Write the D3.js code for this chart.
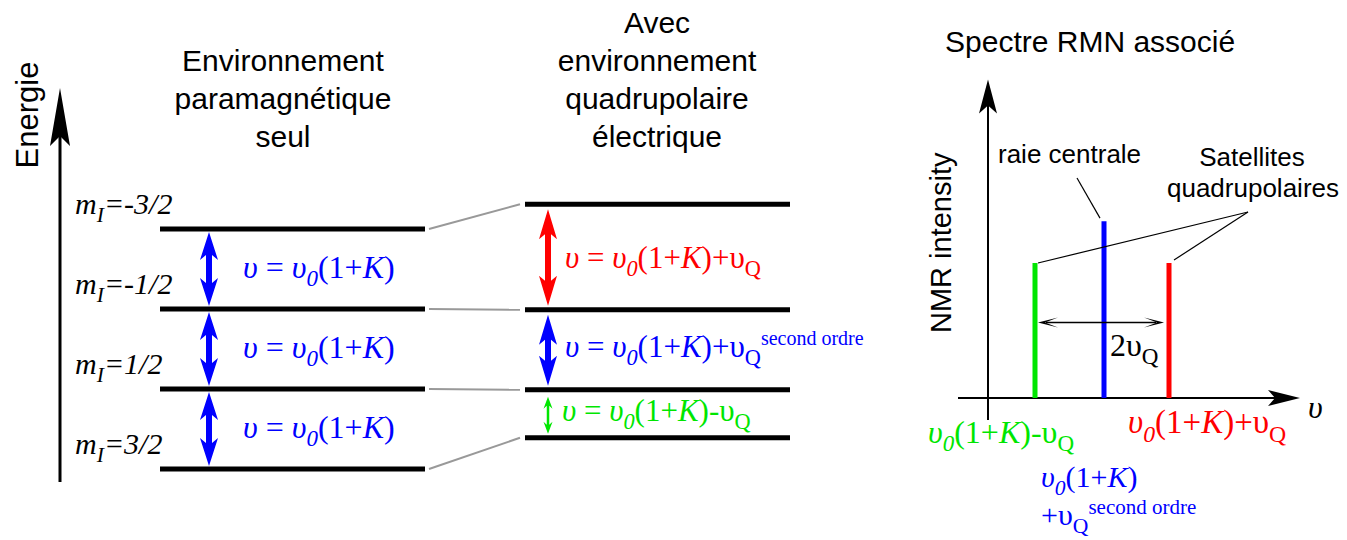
<!DOCTYPE html>
<html>
<head>
<meta charset="utf-8">
<script src="https://cdn.jsdelivr.net/npm/d3@7"></script>
<style>body{margin:0;background:#fff;}</style>
</head>
<body>
<script>
// spin states of the quadrupolar nucleus (I = 3/2)
const spinLabels = ["-3/2", "-1/2", "1/2", "3/2"];
// level energies, arbitrary units
const energyPara = [3, 2, 1, 0];
const energyQuad = [3.31, 1.99, 0.99, 0.39];
// transition type for each gap, top to bottom (quadrupolar case)
const transKind = ["plus", "central", "minus"];
// spectrum lines: frequency and intensity (arbitrary units)
const specKind = ["minus", "central", "plus"];
const specFreq = [0.47, 1.16, 1.81];
const specInt = [1, 1.31, 1];
// titles
const titlePara = ["Environnement", "paramagnétique", "seul"];
const titleQuad = ["Avec", "environnement", "quadrupolaire", "électrique"];

const W = 1347, H = 540;
const sans = "'Liberation Sans', Arial, sans-serif";
const serif = "'Liberation Serif', 'Times New Roman', serif";
const colors = { plus: "#ff0000", central: "#0000ff", minus: "#00e600" };

const svg = d3.select("body").append("svg").attr("width", W).attr("height", H);

// scales
const yE = d3.scaleLinear().domain([0, 3]).range([469, 229]);
const xS = d3.scaleLinear().domain([0, 3.12]).range([988, 1300]);
const yS = d3.scaleLinear().domain([0, 1]).range([398, 263]);

// rich text: segments {t, i (italic), sub, sup, fs}
function rich(g, x, y, segs, size, color) {
  const txt = g.append("text").attr("x", x).attr("y", y)
    .attr("font-family", serif).attr("font-size", size).attr("fill", color);
  let shift = 0;
  segs.forEach(s => {
    let target = 0, fs = size;
    if (s.sub) { target = size * 0.26; fs = size * 0.72; }
    if (s.sup) { target = -s.sup; fs = s.fs || size * 0.66; }
    txt.append("tspan").attr("dy", target - shift)
      .attr("font-size", fs)
      .attr("font-style", s.i ? "italic" : "normal")
      .text(s.t);
    shift = target;
  });
  return txt;
}

const nu0K = [{t: "υ", i: 1}, {t: "0", i: 1, sub: 1}, {t: "(1+"}, {t: "K", i: 1}, {t: ")"}];
const eqCore = [{t: "υ", i: 1}, {t: " = "}].concat(nu0K);
const plusQ = [{t: "+υ"}, {t: "Q", sub: 1}];
const minusQ = [{t: "-υ"}, {t: "Q", sub: 1}];
const eqFor = {
  plus: eqCore.concat(plusQ),
  central: eqCore.concat(plusQ, [{t: "second ordre", sup: 12, fs: 20}]),
  minus: eqCore.concat(minusQ)
};

function dblArrow(x, y1, y2, sw, hw, hl, notch) {
  return `M${x},${y1} L${x + hw / 2},${y1 + hl} L${x + sw / 2},${y1 + hl - notch}
    L${x + sw / 2},${y2 - hl + notch} L${x + hw / 2},${y2 - hl} L${x},${y2}
    L${x - hw / 2},${y2 - hl} L${x - sw / 2},${y2 - hl + notch}
    L${x - sw / 2},${y1 + hl - notch} L${x - hw / 2},${y1 + hl} Z`;
}

// arrow head pointing in direction (dx,dy) with tip at (x,y)
function head(x, y, dx, dy, len, wid, notch) {
  const px = -dy, py = dx;
  const bx = x - dx * len, by = y - dy * len;
  const nx = x - dx * (len - notch), ny = y - dy * (len - notch);
  return `M${x},${y} L${bx + px * wid / 2},${by + py * wid / 2} L${nx},${ny}
    L${bx - px * wid / 2},${by - py * wid / 2} Z`;
}

// ---------- energy axis ----------
svg.append("line").attr("x1", 60).attr("x2", 60).attr("y1", 482).attr("y2", 110)
  .attr("stroke", "#000").attr("stroke-width", 3);
svg.append("path").attr("d", head(60, 88, 0, -1, 58, 20, 10)).attr("fill", "#000");
svg.append("text").attr("transform", "translate(38,115) rotate(-90)")
  .attr("text-anchor", "middle").attr("font-family", sans).attr("font-size", 31)
  .text("Energie");

// ---------- titles ----------
titlePara.forEach((t, i) => {
  svg.append("text").attr("x", 283).attr("y", 71 + i * 38).attr("text-anchor", "middle")
    .attr("font-family", sans).attr("font-size", 30).text(t);
});
titleQuad.forEach((t, i) => {
  svg.append("text").attr("x", 657).attr("y", 33 + i * 38).attr("text-anchor", "middle")
    .attr("font-family", sans).attr("font-size", 30).text(t);
});

// ---------- levels ----------
const gLev = svg.append("g");
// connectors
energyPara.forEach((e, i) => {
  gLev.append("line").attr("x1", 429).attr("y1", yE(e))
    .attr("x2", 520).attr("y2", yE(energyQuad[i]))
    .attr("stroke", "#999").attr("stroke-width", 2);
});
gLev.selectAll(".lp").data(energyPara).join("line")
  .attr("x1", 160).attr("x2", 425).attr("y1", d => yE(d)).attr("y2", d => yE(d))
  .attr("stroke", "#000").attr("stroke-width", 5);
gLev.selectAll(".lq").data(energyQuad).join("line")
  .attr("x1", 525).attr("x2", 790).attr("y1", d => yE(d)).attr("y2", d => yE(d))
  .attr("stroke", "#000").attr("stroke-width", 5);

// spin labels
spinLabels.forEach((s, i) => {
  rich(svg, 75, yE(energyPara[i]) - 15,
    [{t: "m", i: 1}, {t: "I", i: 1, sub: 1}, {t: "=" + s, i: 1}], 30, "#000");
});

// transitions, paramagnetic only
for (let i = 0; i < 3; i++) {
  const y1 = yE(energyPara[i]) + 3, y2 = yE(energyPara[i + 1]) - 3;
  svg.append("path").attr("d", dblArrow(209, y1, y2, 6, 18, 28, 5)).attr("fill", colors.central);
  rich(svg, 243, (y1 + y2) / 2 + 9, eqCore, 32, colors.central);
}

// transitions, with quadrupolar coupling
transKind.forEach((k, i) => {
  const y1 = yE(energyQuad[i]) + 5, y2 = yE(energyQuad[i + 1]) - 4;
  const small = (y2 - y1) < 50;
  svg.append("path")
    .attr("d", small ? dblArrow(548, y1 + 2, y2, 2.5, 9, 12, 3) : dblArrow(548, y1, y2, 6, 18, 30, 5))
    .attr("fill", colors[k]);
  rich(svg, small ? 562 : 565, (y1 + y2) / 2 + (i === 0 ? 10 : 7), eqFor[k], 31, colors[k]);
});

// ---------- spectrum ----------
svg.append("text").attr("x", 945).attr("y", 52).attr("font-family", sans).attr("font-size", 30)
  .text("Spectre RMN associé");

// axes
svg.append("line").attr("x1", xS(0)).attr("x2", xS(0)).attr("y1", 420).attr("y2", yS(2.2))
  .attr("stroke", "#000").attr("stroke-width", 2);
svg.append("path").attr("d", head(xS(0), yS(2.36), 0, -1, 34, 18, 8)).attr("fill", "#000");
svg.append("line").attr("x1", 958).attr("x2", xS(2.9)).attr("y1", yS(0)).attr("y2", yS(0))
  .attr("stroke", "#000").attr("stroke-width", 2);
svg.append("path").attr("d", head(xS(3.12), yS(0), 1, 0, 32, 16, 7)).attr("fill", "#000");
rich(svg, 1308, 418, [{t: "υ", i: 1}], 32, "#000");

svg.append("text").attr("transform", `translate(951,${yS(1.15)}) rotate(-90)`)
  .attr("text-anchor", "middle").attr("font-family", sans).attr("font-size", 29)
  .text("NMR intensity");

// lines
svg.selectAll(".sl").data(specFreq).join("line")
  .attr("x1", d => xS(d)).attr("x2", d => xS(d))
  .attr("y1", yS(0)).attr("y2", (d, i) => yS(specInt[i]))
  .attr("stroke", (d, i) => colors[specKind[i]]).attr("stroke-width", 5);

// 2vQ arrow
const ya = yS(0.56);
const xa1 = xS(specFreq[0]) + 3, xa2 = xS(specFreq[2]) - 5;
svg.append("line").attr("x1", xa1 + 8).attr("x2", xa2 - 8).attr("y1", ya).attr("y2", ya)
  .attr("stroke", "#000").attr("stroke-width", 1.5);
svg.append("path").attr("d", head(xa1, ya, -1, 0, 20, 10, 13)).attr("fill", "#000");
svg.append("path").attr("d", head(xa2, ya, 1, 0, 20, 10, 13)).attr("fill", "#000");
rich(svg, 1110, 356, [{t: "2υ"}, {t: "Q", sub: 1}], 32, "#000");

// annotations
svg.append("text").attr("x", 998).attr("y", 163).attr("font-family", sans).attr("font-size", 26)
  .text("raie centrale");
svg.append("line").attr("x1", 1077).attr("y1", 178)
  .attr("x2", xS(specFreq[1]) - 4).attr("y2", yS(specInt[1]) - 3)
  .attr("stroke", "#000").attr("stroke-width", 1.2);
svg.append("text").attr("x", 1252).attr("y", 166).attr("text-anchor", "middle")
  .attr("font-family", sans).attr("font-size", 26).text("Satellites");
svg.append("text").attr("x", 1253).attr("y", 197).attr("text-anchor", "middle")
  .attr("font-family", sans).attr("font-size", 26).text("quadrupolaires");
[0, 2].forEach(i => {
  svg.append("line").attr("x1", 1248).attr("y1", 212)
    .attr("x2", xS(specFreq[i]) + (i === 0 ? 3 : 5)).attr("y2", yS(specInt[i]) - (i === 0 ? 0 : 3))
    .attr("stroke", "#000").attr("stroke-width", 1.2);
});

// frequency labels
rich(svg, 928, 443, nu0K.concat(minusQ), 32, colors.minus);
rich(svg, 1128, 433, nu0K.concat(plusQ), 33, colors.plus);
rich(svg, 1041, 487, nu0K, 30, colors.central);
rich(svg, 1041, 525, plusQ.concat([{t: "second ordre", sup: 11, fs: 21}]), 30, colors.central);
</script>
</body>
</html>
